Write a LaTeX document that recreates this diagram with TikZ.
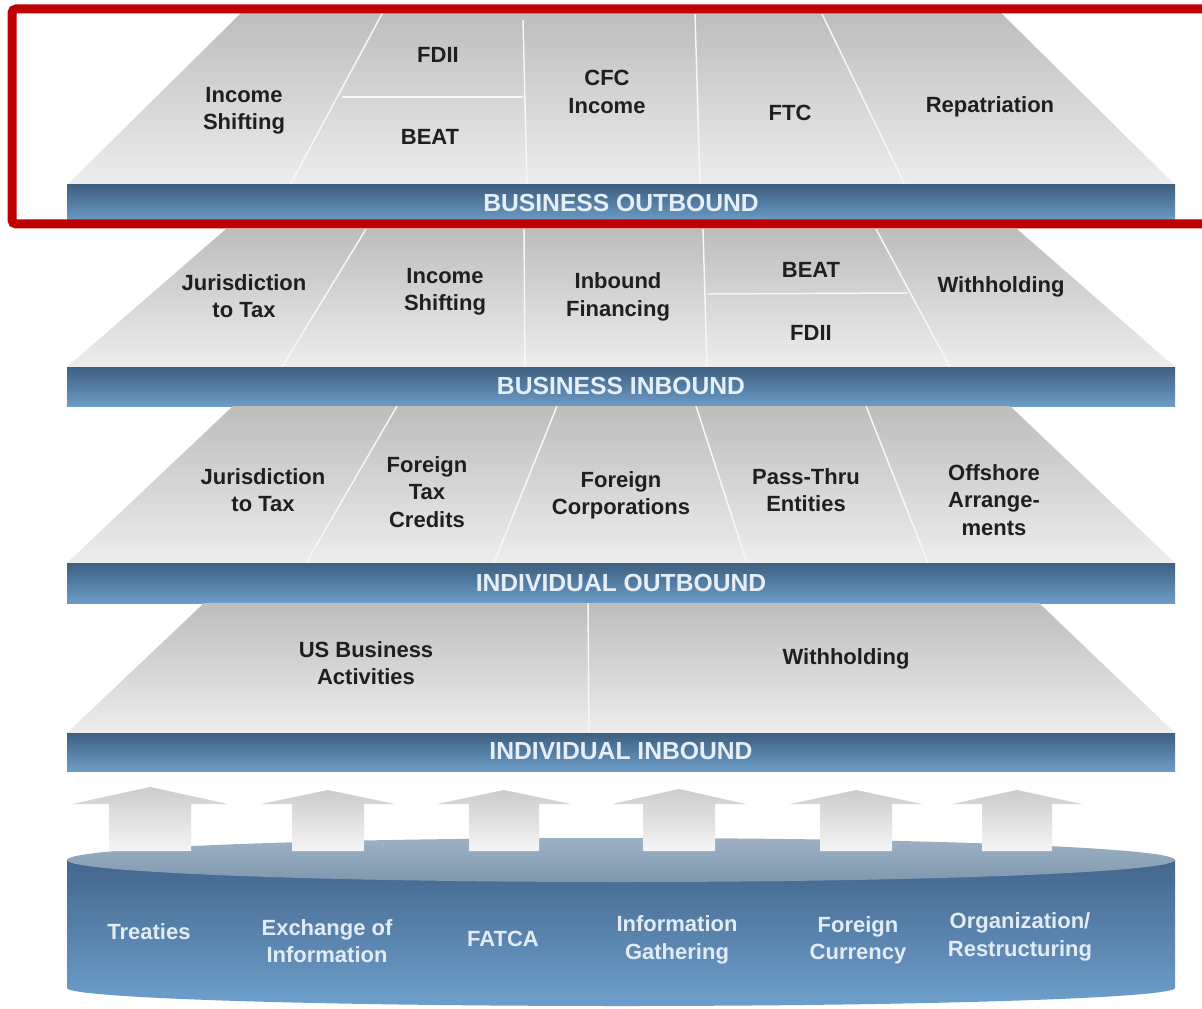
\documentclass[tikz,border=0pt]{standalone}
\usepackage{fontspec}
\setmainfont{Liberation Sans}
\definecolor{slabtop}{HTML}{BDBDBD}
\definecolor{slabbot}{HTML}{EDEDED}
\definecolor{bandtop}{HTML}{3E5F80}
\definecolor{bandbot}{HTML}{6C9CC6}
\definecolor{bandtxt}{HTML}{E6EFF8}
\definecolor{framered}{HTML}{C00000}
\definecolor{lidtop}{HTML}{9DB1C3}
\definecolor{lidbot}{HTML}{7F98AF}
\definecolor{drumtop}{HTML}{43668C}
\definecolor{drumbot}{HTML}{6E9FCC}
\definecolor{basetxt}{HTML}{E2ECF5}
\tikzset{
  slab/.style={top color=slabtop, bottom color=slabbot},
  band/.style={top color=bandtop, bottom color=bandbot},
  cut/.style={draw=white!94!gray, line width=1.1pt},
  lbl/.style={font=\bfseries\fontsize{16.5}{20.5}\selectfont, align=center, text=black!88},
  bandlbl/.style={font=\bfseries\fontsize{18.5}{20}\selectfont, text=bandtxt},
  baselbl/.style={font=\bfseries\fontsize{16.5}{20.5}\selectfont, align=center, text=basetxt},
  uparrow/.style={top color=gray!40, bottom color=gray!8}
}
\begin{document}
\begin{tikzpicture}[x=0.75pt, y=-0.75pt]
\useasboundingbox (0,0) rectangle (1202,1009);
\fill[white] (0,0) rectangle (1202,1009);

% business outbound
\shade[slab] (242,12) -- (1000,12) -- (1175,185) -- (67,185) -- cycle;
\draw[cut] (383,12) -- (290,185);
\draw[cut] (342,97) -- (523,97);
\draw[cut] (523,20) -- (527,185);
\draw[cut] (695,14) -- (700,185);
\draw[cut] (822,14) -- (905,185);
\shade[band] (67,185) rectangle (1175,221);
\node[lbl] (bo-shift) at (244,111) {Income\\Shifting};
\node[lbl] (bo-fdii) at (438,55) {FDII};
\node[lbl] (bo-beat) at (430,137) {BEAT};
\node[lbl] (bo-cfc) at (607,92) {CFC\\Income};
\node[lbl] (bo-ftc) at (790,113) {FTC};
\node[lbl] (bo-repat) at (990,107) {Repatriation};
\node[bandlbl] (bo-band) at (621,203) {BUSINESS OUTBOUND};

% business inbound
\shade[slab] (226,229) -- (1017,229) -- (1175,367) -- (67,367) -- cycle;
\draw[cut] (366,229) -- (282,367);
\draw[cut] (524,229) -- (525,367);
\draw[cut] (703,229) -- (707,367);
\draw[cut] (707,294) -- (908,293);
\draw[cut] (876,229) -- (950,367);
\shade[band] (67,367) rectangle (1175,406);
\node[lbl] (bi-juris) at (244,296) {Jurisdiction\\to Tax};
\node[lbl] (bi-shift) at (445,292) {Income\\Shifting};
\node[lbl] (bi-fin) at (618,297) {Inbound\\Financing};
\node[lbl] (bi-beat) at (811,270) {BEAT};
\node[lbl] (bi-fdii) at (811,333) {FDII};
\node[lbl] (bi-wh) at (1001,287) {Withholding};
\node[bandlbl] (bi-band) at (621,386) {BUSINESS INBOUND};

% individual outbound
\shade[slab] (233,406) -- (1010,406) -- (1175,563) -- (67,563) -- cycle;
\draw[cut] (397,406) -- (306,563);
\draw[cut] (557,406) -- (494,563);
\draw[cut] (696,406) -- (747,563);
\draw[cut] (866,406) -- (928,563);
\shade[band] (67,563) rectangle (1175,603);
\node[lbl] (io-juris) at (263,490) {Jurisdiction\\to Tax};
\node[lbl] (io-ftc) at (427,492) {Foreign\\Tax\\Credits};
\node[lbl] (io-corp) at (621,495) {Foreign\\Corporations};
\node[lbl] (io-pass) at (806,490) {Pass-Thru\\Entities};
\node[lbl] (io-off) at (994,500) {Offshore\\Arrange-\\ments};
\node[bandlbl] (io-band) at (621,583) {INDIVIDUAL OUTBOUND};

% individual inbound
\shade[slab] (204,603) -- (1039,603) -- (1175,733) -- (67,733) -- cycle;
\draw[cut] (588,603) -- (589,733);
\shade[band] (67,733) rectangle (1175,771);
\node[lbl] (ii-us) at (366,663) {US Business\\Activities};
\node[lbl] (ii-wh) at (846,659) {Withholding};
\node[bandlbl] (ii-band) at (621,751) {INDIVIDUAL INBOUND};

% base drum
\shade[top color=drumtop, bottom color=drumbot] (67,860) -- (67,988)
  -- plot[variable=\t, domain=180:0, samples=60] ({621+554*cos(\t)}, {988+18*sin(\t)})
  -- (1175,860) -- cycle;
\shade[top color=lidtop, bottom color=lidbot] (621,860) ellipse [x radius=554, y radius=22];
\foreach \cx/\hw/\sw/\tip in {150/78/41/787, 328/67/36/790, 504/67/35/790, 679/67/36/789, 856/66/36/790, 1017/65/35/790}
  \shade[uparrow] (\cx,\tip) -- (\cx+\hw,804) -- (\cx+\sw,804) -- (\cx+\sw,851)
    -- (\cx-\sw,851) -- (\cx-\sw,804) -- (\cx-\hw,804) -- cycle;
\node[baselbl] (treaties) at (149,932) {Treaties};
\node[baselbl] (exchange) at (327,941) {Exchange of\\Information};
\node[baselbl] (fatca) at (503,939) {FATCA};
\node[baselbl] (gather) at (677,940) {Information\\Gathering};
\node[baselbl] (currency) at (858,940) {Foreign\\Currency};
\node[baselbl] (restruct) at (1020,937) {Organization/\\Restructuring};

% highlight frame
\draw[framered, line width=6.75pt, rounded corners=3pt] (12,9) rectangle (1230,224);
\end{tikzpicture}
\end{document}
